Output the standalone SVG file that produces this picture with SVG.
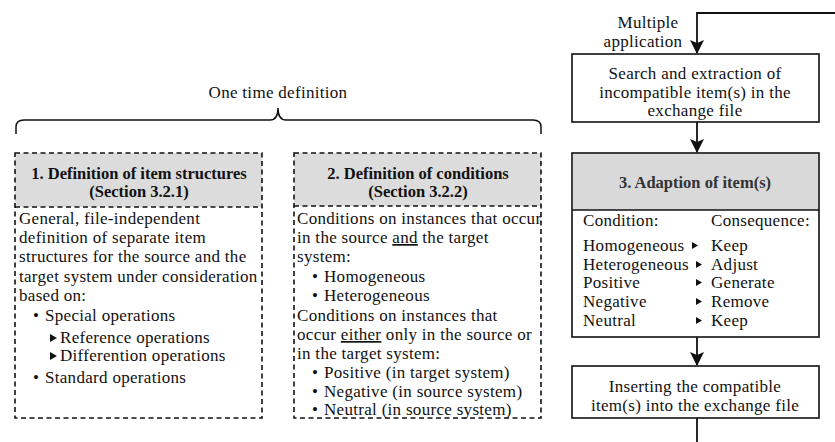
<svg xmlns="http://www.w3.org/2000/svg" width="835" height="442" viewBox="0 0 835 442">
  <style>
    .t { font-family: "Liberation Serif", "Times New Roman", serif; font-size: 17px; letter-spacing: 0.3px; fill: #111; }
    .c { text-anchor: middle; }
    .h { font-family: "Liberation Serif", "Times New Roman", serif; font-size: 16.5px; font-weight: bold; fill: #111; text-anchor: middle; }
    .h3 { fill: #333; }
    .dash { fill: none; stroke: #111; stroke-width: 1.6; stroke-dasharray: 5 3.5; }
    .hdr { fill: #dcdcdc; stroke: none; }
    .box { fill: #fff; stroke: #111; stroke-width: 1.6; }
    .edge { fill: none; stroke: #111; stroke-width: 1.8; }
    .tri { fill: #111; }
  </style>
  <defs>
    <marker id="arrow" viewBox="0 0 14 14" refX="13" refY="7" markerWidth="14" markerHeight="14" markerUnits="userSpaceOnUse" orient="auto">
      <path d="M0,0 L14,7 L0,14 L3,7 Z" fill="#111"/>
    </marker>
  </defs>

  <!-- brace spanning the two definition steps -->
  <g id="one-time">
    <text class="t c" x="278" y="98">One time definition</text>
    <path class="edge" style="stroke-width:1.5" d="M16,134 L16,127 Q16,120 24,120 L270,120 Q278,120 278,108 Q278,120 286,120 L533,120 Q541,120 541,127 L541,134"/>
  </g>

  <!-- step 1 -->
  <g id="item-structures">
    <rect class="hdr" x="15" y="153" width="247" height="54"/>
    <rect class="dash" x="15" y="153" width="247" height="265"/>
    <line class="dash" x1="15" y1="207" x2="262" y2="207"/>
    <text class="h" x="139" y="179">1. Definition of item structures</text>
    <text class="h" x="139" y="197">(Section 3.2.1)</text>
    <text class="t" x="19" y="224">General, file-independent</text>
    <text class="t" x="19" y="243">definition of separate item</text>
    <text class="t" x="19" y="262">structures for the source and the</text>
    <text class="t" x="19" y="282">target system under consideration</text>
    <text class="t" x="19" y="301">based on:</text>
    <text class="t" x="33" y="321">•</text>
    <text class="t" x="45" y="321">Special operations</text>
    <polygon class="tri" points="50,334 50,342 57,338"/>
    <text class="t" x="60" y="343">Reference operations</text>
    <polygon class="tri" points="50,352 50,360 57,356"/>
    <text class="t" x="60" y="361">Differention operations</text>
    <text class="t" x="33" y="383">•</text>
    <text class="t" x="45" y="383">Standard operations</text>
  </g>

  <!-- step 2 -->
  <g id="conditions">
    <rect class="hdr" x="294" y="153" width="247" height="53"/>
    <rect class="dash" x="294" y="153" width="247" height="265"/>
    <line class="dash" x1="294" y1="206" x2="541" y2="206"/>
    <text class="h" x="418" y="179">2. Definition of conditions</text>
    <text class="h" x="418" y="197">(Section 3.2.2)</text>
    <text class="t" x="297" y="224">Conditions on instances that occur</text>
    <text class="t" x="297" y="243">in the source <tspan text-decoration="underline">and</tspan> the target</text>
    <text class="t" x="297" y="262">system:</text>
    <text class="t" x="312" y="282">•</text>
    <text class="t" x="324" y="282">Homogeneous</text>
    <text class="t" x="312" y="301">•</text>
    <text class="t" x="324" y="301">Heterogeneous</text>
    <text class="t" x="297" y="321">Conditions on instances that</text>
    <text class="t" x="297" y="340">occur <tspan text-decoration="underline">either</tspan> only in the source or</text>
    <text class="t" x="297" y="359">in the target system:</text>
    <text class="t" x="312" y="378">•</text>
    <text class="t" x="324" y="378">Positive (in target system)</text>
    <text class="t" x="312" y="397">•</text>
    <text class="t" x="324" y="397">Negative (in source system)</text>
    <text class="t" x="312" y="415">•</text>
    <text class="t" x="324" y="415">Neutral (in source system)</text>
  </g>

  <!-- search step -->
  <g id="search">
    <rect class="box" x="572" y="54" width="247" height="68"/>
    <text class="t c" x="695" y="79">Search and extraction of</text>
    <text class="t c" x="695" y="98">incompatible item(s) in the</text>
    <text class="t c" x="695" y="116">exchange file</text>
  </g>

  <!-- step 3 -->
  <g id="adaption">
    <rect class="box" x="572" y="153" width="247" height="184"/>
    <rect class="hdr" x="573" y="154" width="245" height="56" style="fill:#d9d9d9"/>
    <line class="edge" style="stroke-width:1.6" x1="572" y1="210" x2="819" y2="210"/>
    <text class="h h3" x="695" y="188">3. Adaption of item(s)</text>
    <text class="t" x="583" y="226">Condition:</text>
    <text class="t" x="711" y="226">Consequence:</text>
    <text class="t" x="583" y="251">Homogeneous</text>
    <text class="t" x="583" y="270">Heterogeneous</text>
    <text class="t" x="583" y="288">Positive</text>
    <text class="t" x="583" y="307">Negative</text>
    <text class="t" x="583" y="326">Neutral</text>
    <polygon class="tri" points="692,242 692,249 698,245.5"/>
    <polygon class="tri" points="696,261 696,268 702,264.5"/>
    <polygon class="tri" points="696,279 696,286 702,282.5"/>
    <polygon class="tri" points="696,298 696,305 702,301.5"/>
    <polygon class="tri" points="696,317 696,324 702,320.5"/>
    <text class="t" x="711" y="251">Keep</text>
    <text class="t" x="711" y="270">Adjust</text>
    <text class="t" x="711" y="288">Generate</text>
    <text class="t" x="711" y="307">Remove</text>
    <text class="t" x="711" y="326">Keep</text>
  </g>

  <!-- insert step -->
  <g id="insert">
    <rect class="box" x="572" y="366" width="247" height="52"/>
    <text class="t c" x="695" y="392">Inserting the compatible</text>
    <text class="t c" x="695" y="411">item(s) into the exchange file</text>
  </g>

  <g id="loop-label">
    <text class="t c" x="648" y="28">Multiple</text>
    <text class="t c" x="643" y="47">application</text>
  </g>

  <!-- connectors -->
  <g id="connectors">
    <path class="edge" d="M835,13 L697,13 L697,53" marker-end="url(#arrow)"/>
    <path class="edge" d="M697,122 L697,152" marker-end="url(#arrow)"/>
    <path class="edge" d="M697,337 L697,365" marker-end="url(#arrow)"/>
    <path class="edge" d="M697,418 L697,442"/>
  </g>
</svg>
